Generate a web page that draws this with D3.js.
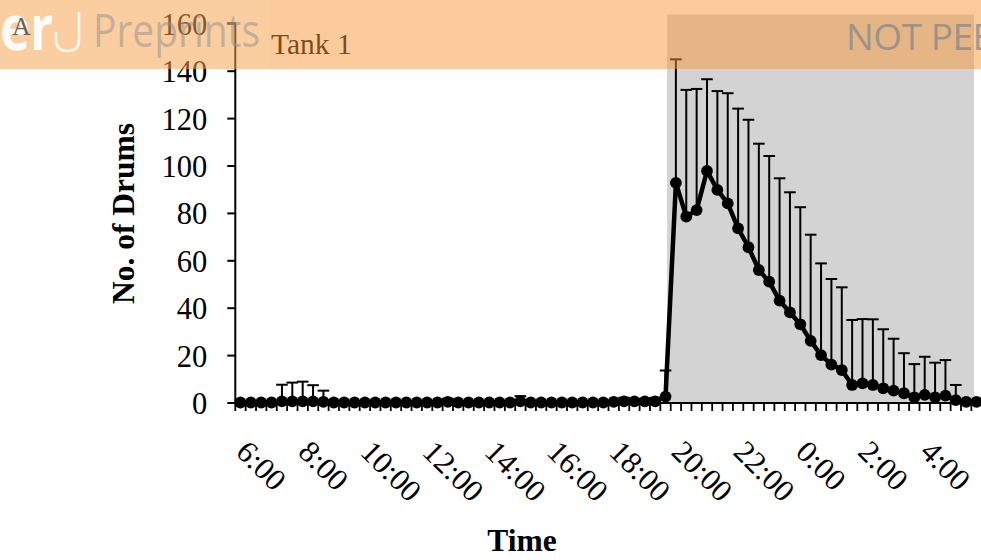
<!DOCTYPE html>
<html>
<head>
<meta charset="utf-8">
<script src="https://cdn.jsdelivr.net/npm/d3@7/dist/d3.min.js"></script>
<style>
html,body{margin:0;padding:0;background:#fff;}
svg{display:block;}
</style>
</head>
<body>
<svg id="chart" width="981" height="560"></svg>
<script>
// ---------- DATA ----------
const categories = [
"6:00","6:20","6:40","7:00","7:20","7:40","8:00","8:20","8:40","9:00","9:20","9:40",
"10:00","10:20","10:40","11:00","11:20","11:40","12:00","12:20","12:40","13:00","13:20","13:40",
"14:00","14:20","14:40","15:00","15:20","15:40","16:00","16:20","16:40","17:00","17:20","17:40",
"18:00","18:20","18:40","19:00","19:20","19:40","20:00","20:20","20:40","21:00","21:20","21:40",
"22:00","22:20","22:40","23:00","23:20","23:40","0:00","0:20","0:40","1:00","1:20","1:40",
"2:00","2:20","2:40","3:00","3:20","3:40","4:00","4:20","4:40","5:00","5:20","5:40"];

const drumsMean = [
0,0,0,0,0.5,0.5,0.5,0.5,0.3,0,0,0,
0,0,0,0,0,0,0,0,0.3,0,0,0,
0,0,0,0.5,0,0,0,0,0,0,0,0,
0.3,0.5,0.5,0.5,0.5,2.5,92.7,78.4,81.2,97.7,89.7,84.0,
73.5,65.5,55.9,51.0,43.0,38.0,33.0,26.0,20.0,16.0,13.7,7.4,
8.1,7.4,6.0,5.0,3.9,2.2,3.2,2.2,2.9,1.0,0.3,0.3];

const drumsSD = [
0,0,0,0,7.0,7.9,8.3,6.8,4.7,0,0,0,
0,0,0,0,0,0,0,0,1.3,0,0,0,
0,0,0,2.2,0,0,0,0,0,0,0,0,
0,1.5,0.5,1.0,1.5,11.0,52.1,53.5,51.1,38.7,41.7,46.5,
50.5,53.8,53.3,53.0,51.6,50.7,49.4,44.8,38.7,36.1,34.9,27.4,
27.1,27.7,24.9,21.9,16.9,14.0,16.1,14.6,15.0,6.4,0,0];

const tickLabels = ["6:00","8:00","10:00","12:00","14:00","16:00","18:00","20:00","22:00","0:00","2:00","4:00"];
const yTicks = [0,20,40,60,80,100,120,140,160];
const nightPeriod = ["19:43","5:35"];   // shaded (dark) period
const yTitle = "No. of Drums";
const xTitle = "Time";
const panelTitle = "Tank 1";
const panelLetter = "A";

// ---------- LAYOUT ----------
const svg = d3.select("#chart");
const x0 = 235.3, bw = 10.367, x1 = x0 + bw * categories.length;
const yTop = 23.3, yBot = 402.5;
const serif = "'Liberation Serif','Times New Roman',Times,serif";
const sans = "'Open Sans','DejaVu Sans',sans-serif";

const x = d3.scaleBand().domain(categories).range([x0, x1]).padding(0);
const y = d3.scaleLinear().domain([0, 160]).range([yBot, yTop]);
const cx = c => x(c) + x.bandwidth() / 2;

// time (hours after 6:00) -> x
const xTime = d3.scaleLinear().domain([0, 24]).range([x0 + bw / 2, x0 + bw / 2 + 72 * bw]);
const toHours = s => { const [h, m] = s.split(":").map(Number); let t = h + m / 60 - 6; if (t < 0) t += 24; return t; };

const data = categories.map((c, i) => ({ c, v: drumsMean[i], sd: drumsSD[i] }));

// shaded night period
svg.append("rect")
  .attr("x", xTime(toHours(nightPeriod[0])))
  .attr("y", y(163.7))
  .attr("width", xTime(toHours(nightPeriod[1])) - xTime(toHours(nightPeriod[0])))
  .attr("height", y(0) - y(163.7) + 0.5)
  .attr("fill", "#d3d3d3");

// y axis
const yAxis = d3.axisLeft(y).tickValues(yTicks).tickSize(8).tickPadding(20);
const gy = svg.append("g").attr("transform", `translate(${x0},0)`).call(yAxis);
gy.select(".domain").attr("d", `M-8,${y(160)}H0V${yBot + 0.5}`).attr("stroke", "#000").attr("stroke-width", 2);
gy.selectAll(".tick line").attr("stroke", "#000").attr("stroke-width", 2);
gy.selectAll(".tick text").attr("font-family", serif).attr("font-size", "30.5px").attr("fill", "#000").attr("dy", "0.36em");

// x axis
const gx = svg.append("g");
gx.append("line").attr("x1", x0 - 1).attr("x2", x1).attr("y1", yBot + 0.5).attr("y2", yBot + 0.5)
  .attr("stroke", "#000").attr("stroke-width", 2);
gx.selectAll("line.tk").data(categories).join("line").attr("class", "tk")
  .attr("x1", d => x(d)).attr("x2", d => x(d))
  .attr("y1", yBot + 0.5).attr("y2", yBot + 8.5)
  .attr("stroke", "#000").attr("stroke-width", 1.8);
gx.selectAll("text.tl").data(tickLabels).join("text").attr("class", "tl")
  .attr("transform", d => `translate(${cx(d) - 6},${yBot + 51}) rotate(45)`)
  .attr("font-family", serif).attr("font-size", "31px").attr("fill", "#000")
  .text(d => d);

// error bars (positive)
const eb = svg.append("g").attr("stroke", "#000").attr("stroke-width", 2);
data.filter(d => d.sd > 0).forEach(d => {
  eb.append("line").attr("x1", cx(d.c)).attr("x2", cx(d.c)).attr("y1", y(d.v)).attr("y2", y(d.v + d.sd));
  eb.append("line").attr("x1", cx(d.c) - 5.8).attr("x2", cx(d.c) + 5.8).attr("y1", y(d.v + d.sd)).attr("y2", y(d.v + d.sd));
});

// line
svg.append("path").datum(data)
  .attr("d", d3.line().x(d => cx(d.c)).y(d => y(d.v)))
  .attr("fill", "none").attr("stroke", "#000").attr("stroke-width", 4.5).attr("stroke-linejoin", "round");
svg.append("g").selectAll("circle").data(data).join("circle")
  .attr("cx", d => cx(d.c)).attr("cy", d => y(d.v)).attr("r", 5.9).attr("fill", "#000");

// titles
svg.append("text").attr("x", 522).attr("y", 551).attr("text-anchor", "middle")
  .attr("font-family", serif).attr("font-weight", "bold").attr("font-size", "31.5px").text(xTitle);
svg.append("text").attr("transform", "translate(134,213.5) rotate(-90)").attr("text-anchor", "middle")
  .attr("font-family", serif).attr("font-weight", "bold").attr("font-size", "31.5px").text(yTitle);
svg.append("text").attr("x", 271).attr("y", 54)
  .attr("font-family", serif).attr("font-size", "29.5px").attr("fill", "#000").text(panelTitle);

// ---------- watermark overlay ----------
svg.append("rect").attr("x", 0).attr("y", 0).attr("width", 981).attr("height", 69)
  .attr("fill", "rgb(247,151,55)").attr("fill-opacity", 0.5);
svg.append("rect").attr("x", 0).attr("y", 0).attr("width", 270).attr("height", 69)
  .attr("fill", "#fff").attr("fill-opacity", 0.07);
svg.append("text").attr("x", 0).attr("y", 50)
  .attr("font-family", sans).attr("font-weight", "bold").attr("font-size", "62px")
  .attr("textLength", 53).attr("lengthAdjust", "spacingAndGlyphs")
  .attr("fill", "#fff").attr("fill-opacity", 0.92).text("er");
svg.append("path").attr("d", "M56,32 L56,40 Q56,51 67.5,51 Q79,51 79,40 L79,12")
  .attr("fill", "none").attr("stroke", "#fff").attr("stroke-opacity", 0.85).attr("stroke-width", 2.5);
svg.append("text").attr("x", 93).attr("y", 47)
  .attr("font-family", sans).attr("font-size", "45px").attr("textLength", 167).attr("lengthAdjust", "spacingAndGlyphs")
  .attr("fill", "#8f8f8f").attr("fill-opacity", 0.5).text("Preprints");
svg.append("text").attr("x", 846).attr("y", 50)
  .attr("font-family", sans).attr("font-size", "37px").attr("letter-spacing", "-0.5px")
  .attr("fill", "#8a8a8a").attr("fill-opacity", 0.8).text("NOT PEER-REVIEWED");
svg.append("text").attr("x", 12).attr("y", 35)
  .attr("font-family", serif).attr("font-size", "26px").attr("fill", "#666058").text(panelLetter);
</script>
</body>
</html>
